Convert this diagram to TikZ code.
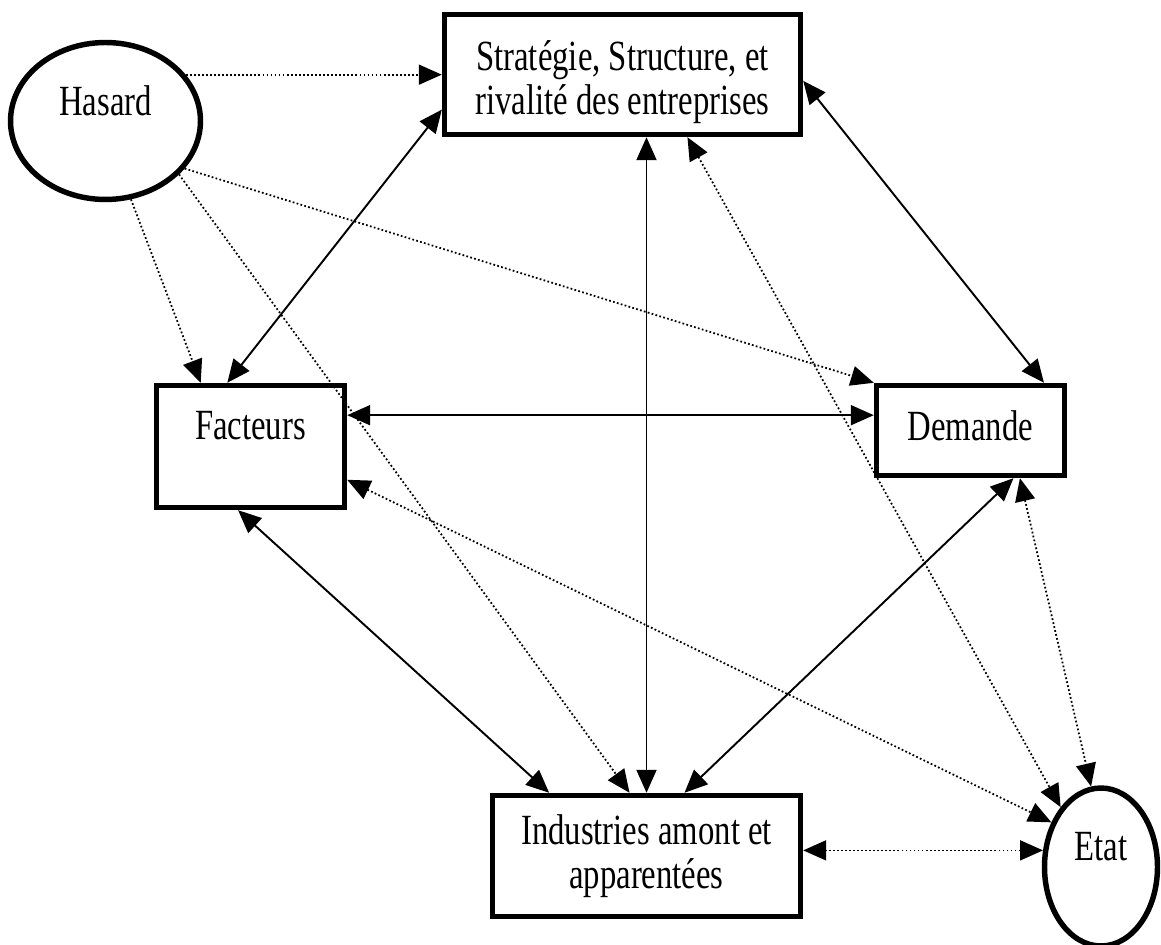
\documentclass[tikz,border=0pt]{standalone}
\usepackage{fontspec}
\setmainfont{Liberation Serif}[FakeStretch=0.76]
\usepackage{tikz}
\usetikzlibrary{arrows.meta}
\usetikzlibrary{shapes.geometric}
\tikzset{box/.style={rectangle,draw=black,line width=3.1pt,align=center,font=\fontsize{24.5}{25}\selectfont}}
\tikzset{cbox/.style={ellipse,draw=black,line width=3.1pt,inner sep=0pt,font=\fontsize{24.5}{25}\selectfont}}
\tikzset{link/.style={line width=1.1pt}}
\tikzset{dotlink/.style={line width=1pt,dash pattern=on 1pt off 1.3pt}}

\begin{document}
\begin{tikzpicture}[x=0.02cm,y=-0.02cm,>={Triangle[length=0.46cm,width=0.4cm]}]
\useasboundingbox (0,0) rectangle (1161,945);

\node[cbox, minimum width=3.8cm, minimum height=3.14cm, text depth=0.8cm] (has) at (105.5,121) {Hasard};
\node[box, minimum width=7.12cm, minimum height=2.4cm, text height=1.8cm] (strat) at (622.5,74.5) {Stratégie, Structure, et\\ rivalité des entreprises};
\node[box, minimum width=3.76cm, minimum height=2.44cm, text depth=0.84cm] (fact) at (250.5,446.5) {Facteurs};
\node[box, minimum width=3.76cm, minimum height=1.8cm, text depth=0.2cm] (dem) at (970.5,430.5) {Demande};
\node[box, minimum width=6.16cm, minimum height=2.42cm] (ind) at (646.5,856) {Industries amont et\\ apparentées};
\node[cbox, minimum width=2.26cm, minimum height=3.16cm, text depth=0.84cm] (etat) at (1101,867) {Etat};

% liens du hasard
\draw[dotlink,->] (has.30) -- (has.30 -| strat.west);
\draw[dotlink,->] (has.288) -- (fact.128);
\draw[dotlink,->] (has.-31) -- (dem.north west);
\draw[dotlink,->] (has.-36) -- (ind.105);

% losange
\draw[link,<->] (fact.110) -- (strat.191);
\draw[link,<->] (ind.north) -- (ind.north |- strat.south);
\draw[link,<->] (dem.171) -- (dem.171 -| fact.east);
\draw[link,<->] (fact.259) -- (ind.147);
\draw[link,<->] (dem.-48) -- (ind.59);
\draw[link,<->] (strat.-2) -- (dem.33);

% liens de l'etat
\draw[dotlink,<->] (strat.-44) -- (etat.124);
\draw[dotlink,<->] (fact.-19) -- (etat.138);
\draw[dotlink,<->] (dem.-44) -- (etat.97);
\draw[dotlink,<->] (etat.164) -- (etat.164 -| ind.east);
\end{tikzpicture}
\end{document}
